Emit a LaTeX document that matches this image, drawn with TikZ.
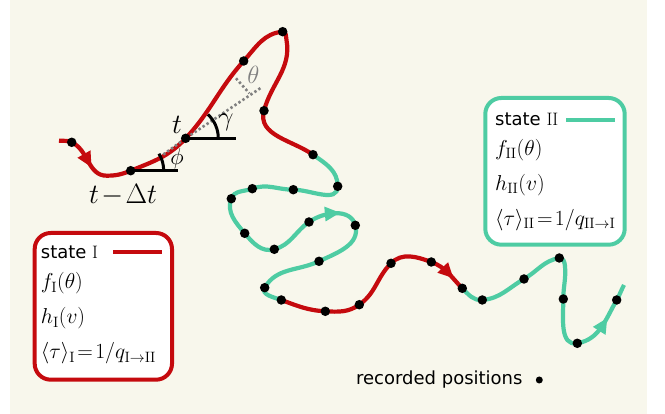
\documentclass[tikz,border=0pt]{standalone}
\usepackage{graphicx}
\usepackage{fontspec}
\newfontfamily\dejavu{DejaVu Sans}
\usetikzlibrary{decorations.markings,calc}
\definecolor{cream}{RGB}{248,247,236}
\definecolor{tred}{RGB}{197,10,14}
\definecolor{tgreen}{RGB}{78,204,163}
\definecolor{dotgray}{RGB}{128,128,128}
\newcommand{\boxmath}[1]{\scalebox{1.04}{$#1$}}
\begin{document}
\begin{tikzpicture}[x=1pt,y=1pt,
  trackI/.style={draw=tred, line width=4.2pt},
  trackII/.style={draw=tgreen, line width=4.2pt},
  rec/.style={circle, fill=black, inner sep=0pt, minimum size=9.5pt},
  headmark/.style 2 args={postaction={decorate}, decoration={markings,
      mark=at position #1 with {\fill[#2] (7,0) -- (-8,7.5) -- (-8,-7.5) -- cycle;}}},
  angleline/.style={draw=black, line width=3pt},
  guide/.style={draw=dotgray, line width=2.6pt, dash pattern=on 2.4pt off 2.4pt},
  statebox/.style={draw=#1, line width=4pt, fill=white, rounded corners=16pt,
      inner sep=0pt},
  boxtext/.style={anchor=base west, inner sep=0pt, font=\fontsize{20.74}{25}\selectfont},
  statelabel/.style={anchor=base west, inner sep=0pt, font=\fontsize{18}{22}\selectfont},
  bigmath/.style={anchor=base west, inner sep=0pt, font=\fontsize{24.88}{30}\selectfont},
  greekA/.style={inner sep=0pt, font=\fontsize{20.74}{25}\selectfont},
  greekB/.style={inner sep=0pt, font=\fontsize{24.88}{30}\selectfont},
]
\useasboundingbox (0,0) rectangle (665,414);
\fill[cream] (10,0) rectangle (647,414);

% track points
\coordinate (S0) at (59,273.3);
\coordinate (P1) at (71.7,271.7);
\coordinate (B) at (106.7,238.3);
\coordinate (P2) at (130.7,243.3);
\coordinate (P3) at (185.7,275.7);
\coordinate (P4) at (243.7,353);
\coordinate (P5) at (282.7,382.3);
\coordinate (C5) at (286.5,374);
\coordinate (P6) at (264,303.3);
\coordinate (P7) at (313,259.3);
\coordinate (G1) at (337.7,227.7);
\coordinate (G2) at (293.3,224.3);
\coordinate (G3) at (252.3,225.3);
\coordinate (G4) at (231.3,215.3);
\coordinate (G5) at (244.7,180.7);
\coordinate (G6) at (274.3,164.7);
\coordinate (G7) at (309,192);
\coordinate (G8) at (355.3,188.7);
\coordinate (G9) at (319,152.7);
\coordinate (G10) at (264.7,126.3);
\coordinate (R1) at (281.3,114);
\coordinate (R2) at (325.3,102.7);
\coordinate (R3) at (359.3,109.3);
\coordinate (R4) at (391,150.7);
\coordinate (R5) at (431.3,152);
\coordinate (R6) at (462.3,125.7);
\coordinate (G11) at (482.3,114);
\coordinate (G12) at (524,135);
\coordinate (G13) at (559.3,156);
\coordinate (C13) at (565,148);
\coordinate (G14) at (563.3,115);
\coordinate (G15) at (577.3,70.7);
\coordinate (G16) at (616.7,114);
\coordinate (E) at (624,129);

% red part 1
\draw[trackI] (S0) to[out=-5,in=155] (P1) to[out=-25,in=180] (B)
  to[out=0,in=202] (P2) to[out=22,in=227] (P3) to[out=47,in=228] (P4)
  to[out=48,in=185] (P5) to[out=5,in=100] (C5) to[out=-80,in=75] (P6)
  to[out=-105,in=145] (P7);
\path[headmark={0.5}{tred}] (P1) to[out=-25,in=180] (B);
% green part 1
\draw[trackII] (P7) to[out=-35,in=90] (G1) to[out=-90,in=0] (G2)
  to[out=180,in=20] (G3) to[out=200,in=70] (G4) to[out=250,in=130] (G5)
  to[out=-50,in=195] (G6) to[out=15,in=215] (G7) to[out=35,in=105] (G8)
  to[out=-75,in=25] (G9) to[out=-155,in=60] (G10) to[out=-120,in=160] (R1);
\path[headmark={0.48}{tgreen}] (G7) to[out=35,in=105] (G8);
% red part 2
\draw[trackI] (R1) to[out=-20,in=177] (R2) to[out=-3,in=215] (R3)
  to[out=35,in=225] (R4) to[out=45,in=160] (R5) to[out=-20,in=135] (R6);
\path[headmark={0.5}{tred}] (R5) to[out=-20,in=135] (R6);
% green part 2
\draw[trackII] (R6) to[out=-45,in=185] (G11) to[out=5,in=210] (G12)
  to[out=30,in=190] (G13) to[out=10,in=95] (C13) to[out=-85,in=90] (G14)
  to[out=-90,in=190] (G15) to[out=10,in=240] (G16) to[out=60,in=242] (E);
\path[headmark={0.55}{tgreen}] (G15) to[out=10,in=240] (G16);

% angle construction
\coordinate (D0) at (163.3,259.5);
\coordinate (D1) at (261.7,326.7);
\coordinate (D2) at (236,335.7);
\coordinate (D3) at (249.3,320.7);
\draw[guide] (D0) -- (P3) -- (D1);
\draw[guide] (D2) -- (D3);
\draw[angleline] (P2) -- ++(47.6,0);
\draw[angleline] (P3) -- ++(50.3,0);
\draw[angleline] ($(P2)+(33,0)$) arc[start angle=0,end angle=31,radius=33];
\draw[angleline] ($(P3)+(32.6,0)$) arc[start angle=0,end angle=47,radius=32.6];

% recorded positions
\foreach \p in {P1,P2,P3,P4,P5,P6,P7,G1,G2,G3,G4,G5,G6,G7,G8,G9,G10,
                R1,R2,R3,R4,R5,R6,G11,G12,G13,G14,G15,G16}
  \node[rec] (dot\p) at (\p) {};

% labels
\node[bigmath] (lt) at (172,280.7) {\scalebox{1.125}{$t$}};
\node[bigmath] (ltdt) at (89,210.7) {\scalebox{1.125}{$t\mskip1.5mu{-}\mskip1.5mu\Delta t$}};
\node[greekA] (lphi) at (177,255.2) {\scalebox{1.11}{$\phi$}};
\node[greekB] (lgamma) at (226,292) {\scalebox{1.085}{$\gamma$}};
\node[greekB, text=dotgray] (ltheta) at (253.3,339) {$\theta$};

% state II box
\node[statebox=tgreen, minimum width=139.4pt, minimum height=146.7pt] (boxII) at (555,242.65) {};
\node[statelabel] (stII) at (495,288.5) {\dejavu state $\mathrm{II}$};
\draw[trackII] (566,294) -- (615,294);
\node[boxtext] (fII) at (495,258.5) {\boxmath{f_{\mathrm{II}}(\theta)}};
\node[boxtext] (hII) at (495,223.5) {\boxmath{h_{\mathrm{II}}(v)}};
\node[boxtext] (tII) at (495,188.5) {\boxmath{\langle\tau\rangle_{\mathrm{II}}\mskip2mu{=}\mskip2mu1/q_{\mathrm{II}\to\mathrm{I}}}};

% state I box
\node[statebox=tred, minimum width=137.3pt, minimum height=146.7pt] (boxI) at (103.35,107.65) {};
\node[statelabel] (stI) at (40.7,155.7) {\dejavu state $\mathrm{I}$};
\draw[trackI] (113.3,161.7) -- (161.7,161.7);
\node[boxtext] (fI) at (40.7,125.2) {\boxmath{f_{\mathrm{I}}(\theta)}};
\node[boxtext] (hI) at (40.7,90.2) {\boxmath{h_{\mathrm{I}}(v)}};
\node[boxtext] (tI) at (40.7,55.2) {\boxmath{\langle\tau\rangle_{\mathrm{I}}\mskip2mu{=}\mskip2mu1/q_{\mathrm{I}\to\mathrm{II}}}};

% legend
\node[anchor=base east, inner sep=0pt, font=\fontsize{18}{22}\selectfont\dejavu] (leg) at (522.7,29.7) {recorded positions};
\node[circle, fill=black, inner sep=0pt, minimum size=7pt] (legdot) at (539.3,34) {};
\end{tikzpicture}
\end{document}
